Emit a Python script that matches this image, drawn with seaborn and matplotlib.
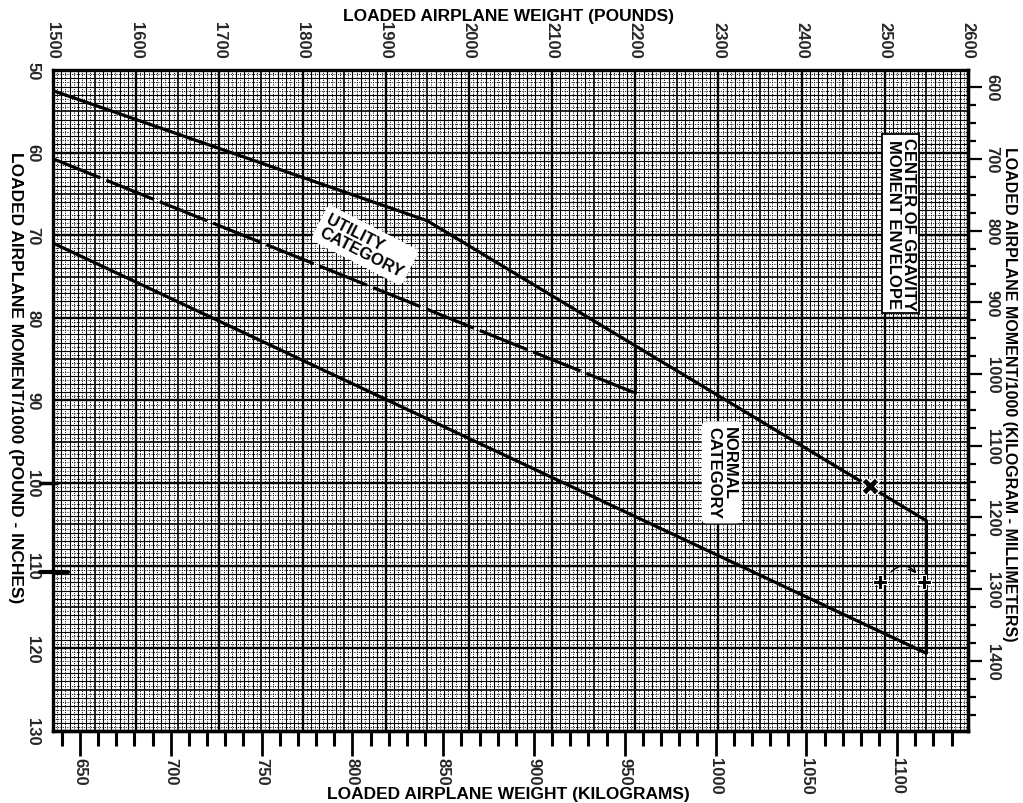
import numpy as np
import matplotlib
matplotlib.use("Agg")
import matplotlib.pyplot as plt
import seaborn as sns

# chart values
lb_ticks = [1500, 1600, 1700, 1800, 1900, 2000, 2100, 2200, 2300, 2400, 2500, 2600]
moment_ticks = [50, 60, 70, 80, 90, 100, 110, 120, 130]
kgmm_ticks = [600, 700, 800, 900, 1000, 1100, 1200, 1300, 1400, 1500]
kg_ticks = [650, 700, 750, 800, 850, 900, 950, 1000, 1050, 1100]

# normal category envelope (weight lb, moment/1000 lb-in)
env_weight = [1500, 1950, 2550, 2550, 1500]
env_moment = [52.5, 68.25, 104.55, 120.6, 70.95]

# utility category aft limit (dashed) and its weight limit
util_weight = [1500, 2200]
util_moment = [60.75, 89.1]
util_lim_weight = [2200, 2200]
util_lim_moment = [83.4, 89.1]

# pencil marks on the scan
mark_weight = [2482]
mark_moment = [100.4]
plus_weight = [2494, 2547]
plus_moment = [112.0, 112.0]

sns.set_theme(style="white")
plt.rcParams['font.family'] = ['Liberation Sans', 'DejaVu Sans']

fig = plt.figure(figsize=(10.23, 8.04), dpi=100)
ax = fig.add_axes([0.0518, 0.0896, 0.8944, 0.8221])
ax.set_xlim(1500, 2600)
ax.set_ylim(130, 50)

# graph paper grid
dot_x = np.arange(1505, 2600, 10)
ax.vlines(dot_x, 50, 130, color="black", lw=0.7, linestyle=(0, (1, 1.4)), zorder=1)
dot_y = np.arange(50.5, 130, 1)
ax.hlines(dot_y, 1500, 2600, color="black", lw=0.7, linestyle=(0, (1, 1.4)), zorder=1)
for w in np.arange(1510, 2600, 10):
    lw = 1.7 if w % 100 == 0 else (1.2 if w % 50 == 0 else 0.8)
    ax.axvline(w, color="black", lw=lw, zorder=1)
for m in np.arange(51, 130, 1):
    lw = 1.7 if m % 10 == 0 else (1.2 if m % 5 == 0 else 0.8)
    ax.axhline(m, color="black", lw=lw, zorder=1)

# envelope lines
sns.lineplot(x=env_weight, y=env_moment, ax=ax, color="black", lw=2.3,
             sort=False, estimator=None, zorder=3)
sns.lineplot(x=util_weight, y=util_moment, ax=ax, color="black", lw=2.3,
             sort=False, estimator=None, linestyle=(0, (16, 2)), zorder=3)
sns.lineplot(x=util_lim_weight, y=util_lim_moment, ax=ax, color="black", lw=2.0,
             sort=False, estimator=None, zorder=3)

# pencil marks
sns.scatterplot(x=mark_weight, y=mark_moment, ax=ax, marker="X", s=160,
                color="black", zorder=4)
sns.scatterplot(x=plus_weight, y=plus_moment, ax=ax, marker="P", s=90,
                color="black", zorder=4)
ax.annotate("", xy=(2540, 111.2), xytext=(2505, 111.0),
            arrowprops=dict(arrowstyle="->", color="black", lw=1,
                            connectionstyle="arc3,rad=-0.6"), zorder=4)
ax.plot([1484, 1505], [100, 100], color="black", lw=2.5, clip_on=False)
ax.plot([1484, 1518], [110.8, 110.8], color="black", lw=3, clip_on=False)

# labels in the chart
tkw = dict(fontsize=12, fontweight="bold", color="black", zorder=5)
ax.text(2519, 68.6, "CENTER OF GRAVITY\nMOMENT ENVELOPE", rotation=270,
        ha="center", va="center", linespacing=1.0,
        bbox=dict(boxstyle="square,pad=0.2", fc="white", ec="black", lw=1.3), **tkw)
ax.text(1875, 71.2, "UTILITY\nCATEGORY", rotation=-27, ha="center", va="center",
        multialignment="left", linespacing=1.0,
        bbox=dict(boxstyle="round,pad=0.3", fc="white", ec="none"), **tkw)
ax.text(2304, 98.7, "NORMAL\nCATEGORY", rotation=270, ha="center", va="center",
        multialignment="left", linespacing=1.0,
        bbox=dict(boxstyle="round,pad=0.3", fc="white", ec="none"), **tkw)

# main axes: pounds on top, lb-in on the left
ax.xaxis.tick_top()
ax.set_xticks(lb_ticks)
ax.set_xticklabels([str(v) for v in lb_ticks], rotation=270, fontsize=12, fontweight="bold")
ax.set_yticks(moment_ticks)
ax.set_yticklabels([str(v) for v in moment_ticks], rotation=270, fontsize=12,
                   fontweight="bold", va="center")
ax.tick_params(axis="both", length=0, pad=9)
ax.grid(False)
for s in ax.spines.values():
    s.set_color("black")
    s.set_linewidth(2.4)
    s.set_zorder(6)

# right axis: kg-mm
kgmm = ax.secondary_yaxis("right", functions=(lambda m: m * 11.521, lambda k: k / 11.521))
kgmm.set_yticks(kgmm_ticks)
kgmm.set_yticks(np.arange(600, 1501, 25), minor=True)
kgmm.set_yticklabels([str(v) for v in kgmm_ticks], rotation=270, fontsize=12,
                     fontweight="bold", va="center")
kgmm.tick_params(which="major", direction="out", length=10, width=1.6, pad=2, color="black")
kgmm.tick_params(which="minor", direction="out", length=6, width=1.6, color="black")
kgmm.spines["right"].set_linewidth(2.4)

# bottom axis: kilograms
kgax = ax.secondary_xaxis("bottom", functions=(lambda w: 650 + (w - 1532.5) / 2.183,
                                               lambda k: 1532.5 + (k - 650) * 2.183))
kgax.set_xticks(kg_ticks)
kgax.set_xticks(np.arange(640, 1131, 10), minor=True)
kgax.set_xticklabels([str(v) for v in kg_ticks], rotation=270, fontsize=12, fontweight="bold")
kgax.tick_params(which="major", direction="out", length=18, width=2.0, pad=1, color="black")
kgax.tick_params(which="minor", direction="out", length=11, width=2.2, color="black")
kgax.spines["bottom"].set_linewidth(2.4)

# axis titles
fkw = dict(fontsize=12.5, fontweight="bold", color="black")
fig.text(0.497, 0.979, "LOADED AIRPLANE WEIGHT (POUNDS)", ha="center", va="center", **fkw)
fig.text(0.497, 0.012, "LOADED AIRPLANE WEIGHT (KILOGRAMS)", ha="center", va="center", **fkw)
fig.text(0.0150, 0.530, "LOADED AIRPLANE MOMENT/1000 (POUND - INCHES)", rotation=270,
         ha="center", va="center", **fkw)
fig.text(0.987, 0.510, "LOADED AIRPLANE MOMENT/1000 (KILOGRAM - MILLIMETERS)", rotation=270,
         ha="center", va="center", fontsize=11.5, fontweight="bold", color="black")

fig.savefig("out.png", dpi=100, facecolor="white")
